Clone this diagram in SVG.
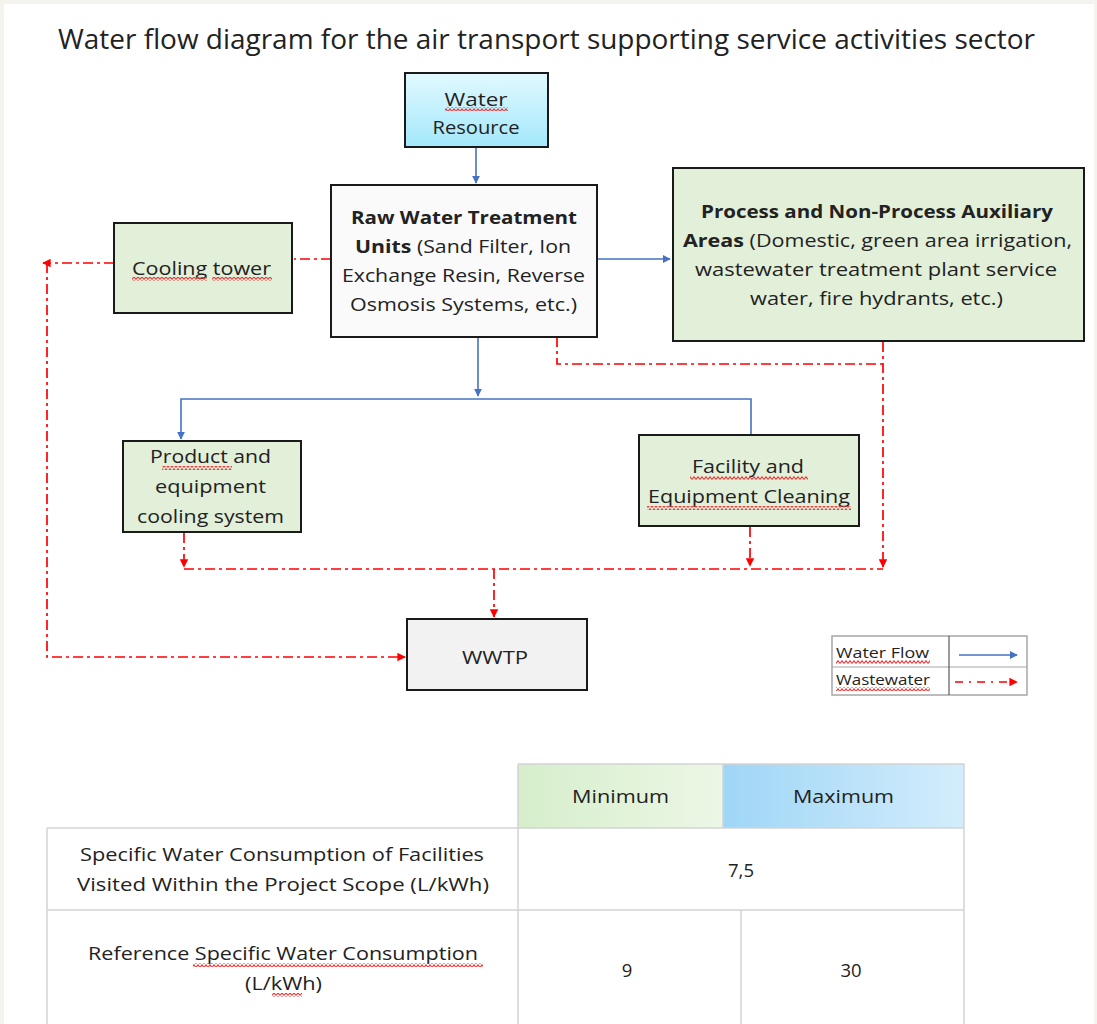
<svg xmlns="http://www.w3.org/2000/svg" width="1097" height="1024" viewBox="0 0 1097 1024">
<style>
text{font-family:"Open Sans","Liberation Sans",sans-serif;fill:#222222;font-size:18.5px}
.c{text-anchor:middle}
.b{font-weight:bold}
.box{stroke:#1a1a1a;stroke-width:2}
.g{fill:#e2efd9}
.blue{stroke:#4472c4;stroke-width:1.6;fill:none}
.red{stroke:#ff0000;stroke-width:1.7;fill:none;stroke-dasharray:10 4 3 4}
.tbl{stroke:#d4d4d4;stroke-width:1.5;fill:none}
.sq{fill:url(#sq)}
</style>
<defs>
<linearGradient id="wr" x1="0" y1="0" x2="0" y2="1">
<stop offset="0" stop-color="#e2f9ff"/><stop offset="1" stop-color="#a3e8fb"/>
</linearGradient>
<linearGradient id="gmin" x1="0" y1="0" x2="1" y2="0">
<stop offset="0" stop-color="#d6eecb"/><stop offset="1" stop-color="#ecf7e6"/>
</linearGradient>
<linearGradient id="gmax" x1="0" y1="0" x2="1" y2="0">
<stop offset="0" stop-color="#9fd6f6"/><stop offset="1" stop-color="#d3edfc"/>
</linearGradient>
<marker id="ab" viewBox="0 0 10 10" refX="9" refY="5" markerWidth="5" markerHeight="5" orient="auto" markerUnits="strokeWidth">
<path d="M0,0 L10,5 L0,10 z" fill="#4472c4"/>
</marker>
<marker id="ar" viewBox="0 0 10 10" refX="9" refY="5" markerWidth="5" markerHeight="5" orient="auto" markerUnits="strokeWidth">
<path d="M0,0 L10,5 L0,10 z" fill="#ff0000"/>
</marker>
<pattern id="sq" width="4" height="4" patternUnits="userSpaceOnUse">
<path d="M0,3.4 L2,0.8 L4,3.4" stroke="#e83a3a" stroke-width="1.1" fill="none"/>
</pattern>
</defs>
<rect width="1097" height="1024" fill="#f4f3ee"/>
<rect x="4" y="4" width="1090" height="1020" fill="#ffffff"/>
<text class="c" x="546.5" y="49" style="font-size:26.5px" textLength="977" lengthAdjust="spacingAndGlyphs">Water flow diagram for the air transport supporting service activities sector</text>

<g id="connectors">
<path class="blue" d="M476,147 V183" marker-end="url(#ab)"/>
<path class="blue" d="M598,259 H670" marker-end="url(#ab)"/>
<path class="blue" d="M478,337 V396" marker-end="url(#ab)"/>
<path class="blue" d="M751,435 V399 H181 V439" marker-end="url(#ab)"/>
<path class="red" d="M331,259 H294"/>
<path class="red" d="M114,263 H43" marker-end="url(#ar)"/>
<path class="red" d="M47,263 V657 H405" marker-end="url(#ar)"/>
<path class="red" d="M557,337 V364 H883"/>
<path class="red" d="M883,342 V567" marker-end="url(#ar)"/>
<path class="red" d="M184,533 V567" marker-end="url(#ar)"/>
<path class="red" d="M750,527 V566" marker-end="url(#ar)"/>
<path class="red" d="M184,569 H883"/>
<path class="red" d="M494,569 V617" marker-end="url(#ar)"/>
</g>

<g id="water-resource">
<rect class="box" x="405" y="73" width="143" height="74" fill="url(#wr)"/>
<text class="c" x="476" y="106" textLength="63" lengthAdjust="spacingAndGlyphs">Water</text>
<text class="c" x="476" y="134" textLength="87" lengthAdjust="spacingAndGlyphs">Resource</text>
<rect class="sq" x="445" y="107" width="63" height="4"/>
</g>

<g id="raw-water-treatment">
<rect class="box" x="331" y="185" width="266" height="152" fill="#fafafa"/>
<text class="c b" x="464" y="224" textLength="226" lengthAdjust="spacingAndGlyphs">Raw Water Treatment</text>
<text class="c" x="463" y="253" textLength="216" lengthAdjust="spacingAndGlyphs"><tspan class="b">Units</tspan> (Sand Filter, Ion</text>
<text class="c" x="463.5" y="282" textLength="243" lengthAdjust="spacingAndGlyphs">Exchange Resin, Reverse</text>
<text class="c" x="463.5" y="311" textLength="227" lengthAdjust="spacingAndGlyphs">Osmosis Systems, etc.)</text>
</g>

<g id="process-areas">
<rect class="box g" x="673" y="168" width="411" height="173"/>
<text class="c b" x="877" y="218" textLength="352" lengthAdjust="spacingAndGlyphs">Process and Non-Process Auxiliary</text>
<text class="c" x="877.5" y="247" textLength="389" lengthAdjust="spacingAndGlyphs"><tspan class="b">Areas</tspan> (Domestic, green area irrigation,</text>
<text class="c" x="876" y="276" textLength="362" lengthAdjust="spacingAndGlyphs">wastewater treatment plant service</text>
<text class="c" x="876.5" y="305" textLength="253" lengthAdjust="spacingAndGlyphs">water, fire hydrants, etc.)</text>
</g>

<g id="cooling-tower">
<rect class="box g" x="114" y="223" width="178" height="90"/>
<text class="c" x="201.5" y="275" textLength="139" lengthAdjust="spacingAndGlyphs">Cooling tower</text>
<rect class="sq" x="132" y="277" width="75" height="4"/>
<rect class="sq" x="212" y="277" width="60" height="4"/>
</g>

<g id="product-cooling">
<rect class="box g" x="123" y="441" width="178" height="91"/>
<text class="c" x="210.5" y="463" textLength="121" lengthAdjust="spacingAndGlyphs">Product and</text>
<text class="c" x="210.5" y="493" textLength="111" lengthAdjust="spacingAndGlyphs">equipment</text>
<text class="c" x="210.5" y="523" textLength="147" lengthAdjust="spacingAndGlyphs">cooling system</text>
<rect class="sq" x="162" y="466" width="70" height="4"/>
</g>

<g id="facility-cleaning">
<rect class="box g" x="639" y="435" width="220" height="91"/>
<text class="c" x="748" y="473" textLength="112" lengthAdjust="spacingAndGlyphs">Facility and</text>
<text class="c" x="749" y="503" textLength="202" lengthAdjust="spacingAndGlyphs">Equipment Cleaning</text>
<rect class="sq" x="690" y="476" width="118" height="4"/>
<rect class="sq" x="647" y="506" width="204" height="4"/>
</g>

<g id="wwtp">
<rect class="box" x="407" y="619" width="180" height="71" fill="#f2f2f2"/>
<text class="c" x="495" y="664" textLength="66" lengthAdjust="spacingAndGlyphs">WWTP</text>
</g>

<g id="legend">
<rect x="832" y="636" width="195" height="59" fill="#ffffff" stroke="#a6a6a6" stroke-width="1.5"/>
<line x1="832" y1="667" x2="1027" y2="667" stroke="#a6a6a6" stroke-width="1.2"/>
<line x1="949" y1="636" x2="949" y2="695" stroke="#5a5a5a" stroke-width="1.2"/>
<text x="836" y="658" style="font-size:15px" textLength="93" lengthAdjust="spacingAndGlyphs">Water Flow</text>
<text x="836" y="685" style="font-size:15px" textLength="94" lengthAdjust="spacingAndGlyphs">Wastewater</text>
<rect class="sq" x="836" y="660" width="94" height="4"/>
<rect class="sq" x="836" y="687" width="94" height="4"/>
<path class="blue" d="M959,655 H1017" stroke-width="1.3" marker-end="url(#ab)"/>
<path class="red" d="M955,682 H1017" stroke-width="1.4" style="stroke-dasharray:8 6 2 6" marker-end="url(#ar)"/>
</g>

<g id="table">
<rect x="518" y="764" width="205" height="64" fill="url(#gmin)"/>
<rect x="723" y="764" width="241" height="64" fill="url(#gmax)"/>
<path class="tbl" d="M518,764 H964 V1024 M518,764 V1024 M723,764 V828 M47,828 H964 M47,910 H964 M47,828 V1024 M741,910 V1024"/>
<text class="c" x="620.5" y="803" textLength="97" lengthAdjust="spacingAndGlyphs">Minimum</text>
<text class="c" x="843.5" y="803" textLength="101" lengthAdjust="spacingAndGlyphs">Maximum</text>
<text class="c" x="282" y="861" textLength="404" lengthAdjust="spacingAndGlyphs">Specific Water Consumption of Facilities</text>
<text class="c" x="283" y="891" textLength="412" lengthAdjust="spacingAndGlyphs">Visited Within the Project Scope (L/kWh)</text>
<text class="c" x="741" y="877">7,5</text>
<text class="c" x="283" y="960" textLength="390" lengthAdjust="spacingAndGlyphs">Reference Specific Water Consumption</text>
<text class="c" x="283.5" y="990" textLength="77" lengthAdjust="spacingAndGlyphs">(L/kWh)</text>
<rect class="sq" x="193" y="963" width="290" height="4"/>
<rect class="sq" x="272" y="993" width="30" height="4"/>
<text class="c" x="627" y="977">9</text>
<text class="c" x="851" y="977">30</text>
</g>
</svg>
